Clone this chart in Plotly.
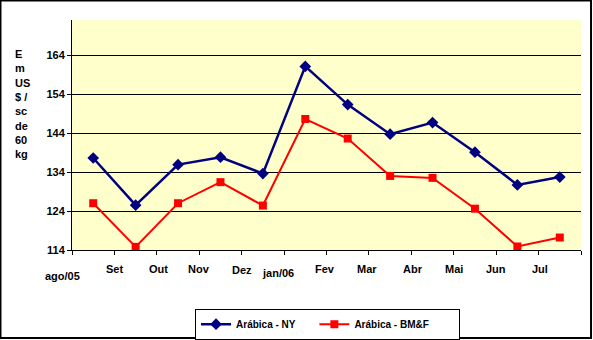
import plotly.graph_objects as go

months = ["ago/05", "Set", "Out", "Nov", "Dez", "jan/06", "Fev", "Mar", "Abr", "Mai", "Jun", "Jul"]
ny = [137.6, 125.5, 135.9, 137.8, 133.6, 161.1, 151.3, 143.7, 146.7, 139.1, 130.7, 132.7]
bmf = [126.0, 114.8, 126.0, 131.4, 125.4, 147.6, 142.6, 133.0, 132.5, 124.6, 114.9, 117.2]
y_ticks = [114, 124, 134, 144, 154, 164]
series_names = ["Arábica - NY", "Arábica - BM&F"]

# layout tweaks for the staggered month labels (offset in category units, y in paper)
label_dx = [-0.22, 0, 0.03, 0, 0.01, -0.14, -0.03, -0.04, 0.03, 0, 0, 0.04]
label_y = [-0.112, -0.083, -0.083, -0.083, -0.087, -0.101, -0.083, -0.083, -0.083, -0.083, -0.083, -0.083]

FONT = "Liberation Sans"
N = len(months)
xs = [i + 0.5 for i in range(N)]
PAD1 = "\u00a0" * 5  # spacing after legend entries
PAD2 = "\u00a0" * 9

fig = go.Figure()
fig.add_trace(go.Scatter(
    x=xs, y=ny, mode="lines+markers", name=series_names[0] + PAD1,
    line=dict(color="#000080", width=2.5),
    marker=dict(symbol="diamond", size=9, color="#000080"),
))
fig.add_trace(go.Scatter(
    x=xs, y=bmf, mode="lines+markers", name=series_names[1] + PAD2,
    line=dict(color="#FF0000", width=2),
    marker=dict(symbol="square", size=8, color="#FF0000"),
))

annotations = []
for i, m in enumerate(months):
    annotations.append(dict(
        x=(i + label_dx[i]) / N, y=label_y[i], xref="paper", yref="paper",
        text=f"<b>{m}</b>", showarrow=False, xanchor="center", yanchor="middle",
        font=dict(family=FONT, size=11, color="black"),
    ))
annotations.append(dict(
    x=-0.115, y=0.635, xref="paper", yref="paper",
    text="<b>E<br>m<br>US<br>$ /<br>sc<br>de<br>60<br>kg</b>",
    showarrow=False, xanchor="left", yanchor="middle", align="left",
    font=dict(family=FONT, size=11, color="black"),
))

fig.update_layout(
    width=593, height=340,
    margin=dict(l=72, r=12, t=20, b=90, autoexpand=False),
    paper_bgcolor="white", plot_bgcolor="#FFFFCC",
    font=dict(family=FONT, size=11, color="black"),
    showlegend=True,
    legend=dict(
        orientation="h", x=0.2417, y=-0.255, xanchor="left", yanchor="top",
        bgcolor="white", bordercolor="black", borderwidth=1,
        font=dict(family=FONT, size=10, color="black", weight="bold"),
        itemwidth=30,
    ),
    annotations=annotations,
    shapes=[dict(
        type="rect", xref="paper", yref="paper",
        x0=-0.1405, x1=1.0197, y0=-0.3826, y1=1.0848,
        line=dict(color="black", width=2), fillcolor="rgba(0,0,0,0)", layer="above",
    )],
)
fig.update_xaxes(
    range=[0, 12], tickvals=list(range(13)), showticklabels=False,
    ticks="outside", ticklen=4, tickcolor="black",
    showline=True, linecolor="black", linewidth=1, showgrid=False, zeroline=False,
)
fig.update_yaxes(
    range=[114, 173], tickvals=y_ticks, ticktext=[f"<b>{v}</b>" for v in y_ticks],
    ticks="outside", ticklen=4, tickcolor="black",
    showline=True, linecolor="black", linewidth=1,
    showgrid=True, gridcolor="black", gridwidth=1, zeroline=False,
    tickfont=dict(family=FONT, size=11, color="black"),
)

fig.write_html("out.html")
